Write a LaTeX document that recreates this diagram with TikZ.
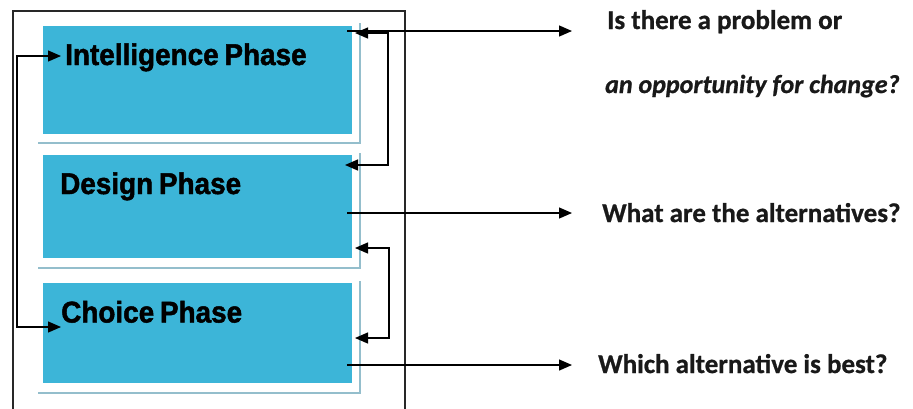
\documentclass[tikz,border=0pt]{standalone}
\usepackage{fontspec}
\usetikzlibrary{arrows.meta}
\newfontfamily\phasefont{Liberation Sans}[FakeStretch=0.93,FakeBold=1.6]
\newfontfamily\qfont{Carlito}[FakeBold=0.8]
\definecolor{boxblue}{RGB}{60,181,216}
\definecolor{frameblue}{RGB}{148,190,204}
\definecolor{framegray}{RGB}{40,40,40}
\tikzset{
  phasebox/.style={fill=boxblue, draw=none, minimum width=308.5pt, inner sep=0pt},
  phaselabel/.style={anchor=base west, inner sep=0pt, font=\phasefont\bfseries\fontsize{30}{32}\selectfont},
  qlabel/.style={anchor=base west, inner sep=0pt, text=black!90, font=\qfont\bfseries\fontsize{27}{29}\selectfont},
  shade/.style={draw=frameblue, line width=1.8pt},
  tip/.style={},
  arr/.style={-{Triangle[length=13pt,width=11pt]}, line width=1.3pt, black},
  darr/.style={{Triangle[length=13pt,width=11pt]}-{Triangle[length=13pt,width=11pt]}, line width=1.3pt, black},
}
\begin{document}
\begin{tikzpicture}[x=1pt,y=-1pt]
\useasboundingbox (0,0) rectangle (913,408);
\clip (0,0) rectangle (913,408);
\fill[white] (0,0) rectangle (913,408);
% outer frame
\draw[framegray, line width=1.5pt] (13,420) -- (13,11) -- (405,11) -- (405,420);
% shadow frames
\draw[shade] (38,143) -- (360,143) -- (360,23);
\draw[shade] (38,268) -- (360,268) -- (360,153);
\draw[shade] (38,393) -- (360,393) -- (360,281);
% boxes
\node[phasebox, minimum height=107.5pt] (int) at (197.25,79.75) {};
\node[phasebox, minimum height=103pt] (des) at (197.25,206.5) {};
\node[phasebox, minimum height=100pt] (cho) at (197.25,333) {};
% titles
\node[phaselabel] (intT) at (65,65) {Intelligence\hspace{-2pt} Phase};
\node[phaselabel] (desT) at (60,194) {Design\hspace{-2pt} Phase};
\node[phaselabel] (choT) at (61,322.5) {Choice\hspace{-2pt} Phase};
% questions
\node[qlabel] (q1) at (607,29) {Is there a problem or};
\node[qlabel, font=\qfont\bfseries\itshape\fontsize{26}{28}\selectfont] (q1b) at (605,93) {an opportunity for change?};
\node[qlabel] (q2) at (602,222) {What are the alternatives?};
\node[qlabel] (q3) at (598,373) {Which alternative is best?};
% output arrows
\coordinate (o1) at (347,31);
\coordinate (t1) at (572,31);
\coordinate (o2) at (347,213);
\coordinate (t2) at (572,213);
\coordinate (o3) at (347,365);
\coordinate (t3) at (572,365);
\draw[arr] (o1) -- (t1);
\draw[arr] (o2) -- (t2);
\draw[arr] (o3) -- (t3);
% feedback right
\coordinate (f1a) at (355,33);
\coordinate (f1b) at (345,165);
\coordinate (f2a) at (355,248);
\coordinate (f2b) at (355,338);
\draw[darr] (f1a) -- (388,33) -- (388,165) -- (f1b);
\draw[darr] (f2a) -- (389,248) -- (389,338) -- (f2b);
% feedback left
\coordinate (l1) at (61,56);
\coordinate (l2) at (61,327);
\draw[darr] (l1) -- (17,56) -- (17,327) -- (l2);
\end{tikzpicture}
\end{document}
